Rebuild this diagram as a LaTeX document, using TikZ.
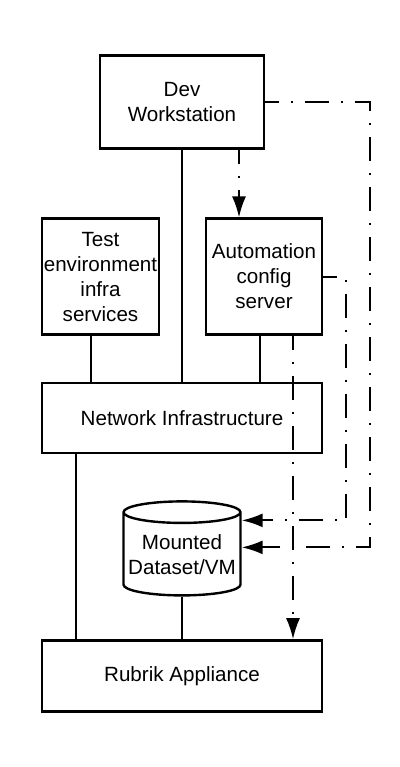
\documentclass[tikz,border=0pt]{standalone}
\usepackage{fontspec}
\setmainfont{Liberation Sans}
\usetikzlibrary{arrows.meta,positioning,shapes.geometric}
\tikzset{
    box/.style={rectangle, draw=black, line width=1.2pt, inner sep=0pt,
        align=center, font=\fontsize{10.3}{12.5}\selectfont},
    dbase/.style={cylinder, shape border rotate=90, aspect=0.2, draw=black,
        line width=1.2pt, inner sep=0pt, align=center,
        font=\fontsize{10.3}{12.5}\selectfont},
    link/.style={line width=1pt},
    dlink/.style={->, >={Latex[length=10.5pt,width=7pt]}, line width=1pt,
        dash pattern=on 12pt off 6pt on 1pt off 6pt, dash phase=5pt},
    rloop/.style={to path={-- ++(#1,0) |- (\tikztotarget)}}
}
\begin{document}
\begin{tikzpicture}
    \useasboundingbox (-91pt,-174.5pt) rectangle (109pt,209pt);
    \node[box, minimum width=140pt, minimum height=35pt] (net) {Network Infrastructure};
    \node[box, minimum width=82pt, minimum height=46.5pt] (dev) [above=116pt of net] {Dev\\Workstation};
    \node[box, minimum width=58.5pt, minimum height=58pt] (test) [above right=23pt and 0pt of net.north west] {Test\\environment\\infra\\services};
    \node[box, minimum width=58pt, minimum height=58pt] (auto) [above left=23pt and 0pt of net.north east] {Automation\\config\\server};
    \node[dbase, minimum width=58.5pt, minimum height=47pt] (mount) [below=23pt of net] {Mounted\\Dataset/VM};
    \node[box, minimum width=140pt, minimum height=35.5pt] (rubrik) [below=92.5pt of net] {Rubrik Appliance};
    % solid links
    \draw[link] (dev) -- (net);
    \draw[link] ([xshift=-4.75pt]test.south) -- ([xshift=-4.75pt]test.south |- net.north);
    \draw[link] ([xshift=-2pt]auto.south) -- ([xshift=-2pt]auto.south |- net.north);
    \draw[link] ([xshift=17.5pt]net.south west) -- ([xshift=17.5pt]rubrik.north west);
    \draw[link] (mount.south) -- (mount.south |- rubrik.north);
    % dash-dot arrows
    \draw[dlink] ([xshift=28.5pt]dev.south) -- ([xshift=28.5pt]dev.south |- auto.north);
    \draw[dlink] ([xshift=14.5pt]auto.south) -- ([xshift=14.5pt]auto.south |- rubrik.north);
    \draw[dlink] (auto.east) to[rloop=11.5pt] ([yshift=17pt]mount.east);
    \draw[dlink] (dev.east) to[rloop=52.5pt] ([yshift=3.5pt]mount.east);
\end{tikzpicture}
\end{document}
